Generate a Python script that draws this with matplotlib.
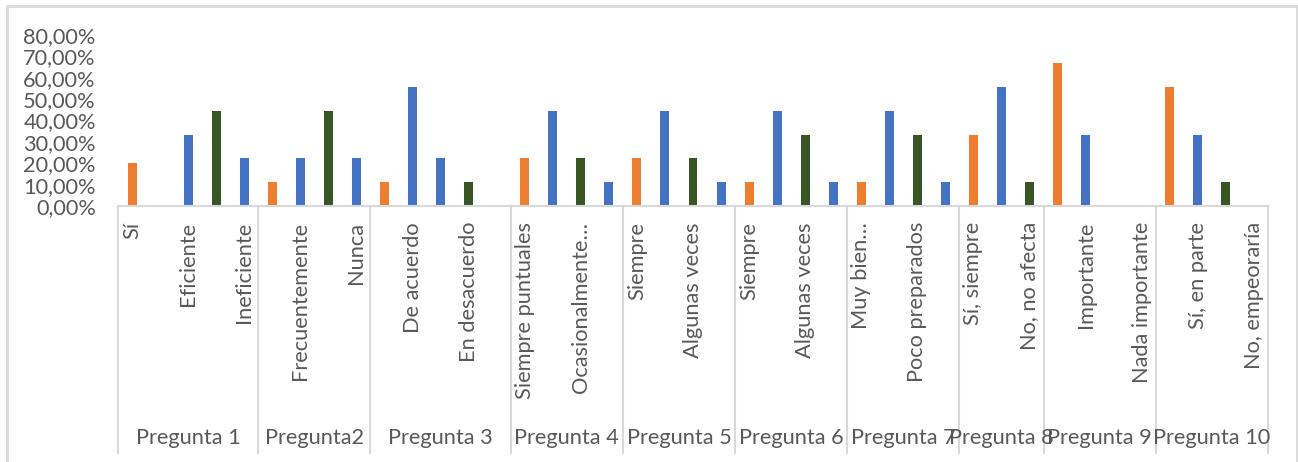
import matplotlib
matplotlib.use("Agg")
import matplotlib.pyplot as plt
import matplotlib.transforms as mtransforms
from matplotlib.patches import Rectangle
import numpy as np

# ---------------- data ----------------
groups = ["Pregunta 1", "Pregunta2", "Pregunta 3", "Pregunta 4", "Pregunta 5",
          "Pregunta 6", "Pregunta 7", "Pregunta 8", "Pregunta 9", "Pregunta 10"]
group_sizes = [5, 4, 5, 4, 4, 4, 4, 3, 4, 4]

# category labels (only every other one is visible in the chart; hidden ones left blank)
categories = ["Sí", "", "Eficiente", "", "Ineficiente",
              "", "Frecuentemente", "", "Nunca",
              "", "De acuerdo", "", "En desacuerdo", "",
              "Siempre puntuales", "", "Ocasionalmente…", "",
              "Siempre", "", "Algunas veces", "",
              "Siempre", "", "Algunas veces", "",
              "Muy bien…", "", "Poco preparados", "",
              "Sí, siempre", "", "No, no afecta",
              "", "Importante", "", "Nada importante",
              "", "Sí, en parte", "", "No, empeoraría"]

N = None
serie_naranja = [0.20, N, N, N, N,
                 0.1111, N, N, N,
                 0.1111, N, N, N, N,
                 0.2222, N, N, N,
                 0.2222, N, N, N,
                 0.1111, N, N, N,
                 0.1111, N, N, N,
                 0.3333, N, N,
                 0.6667, N, N, N,
                 0.5556, N, N, N]
serie_azul = [N, N, 0.3333, N, 0.2222,
              N, 0.2222, N, 0.2222,
              N, 0.5556, 0.2222, N, N,
              N, 0.4444, N, 0.1111,
              N, 0.4444, N, 0.1111,
              N, 0.4444, N, 0.1111,
              N, 0.4444, N, 0.1111,
              N, 0.5556, N,
              N, 0.3333, N, N,
              N, 0.3333, N, N]
serie_verde = [N, N, N, 0.4444, N,
               N, N, 0.4444, N,
               N, N, N, 0.1111, N,
               N, N, 0.2222, N,
               N, N, 0.2222, N,
               N, N, 0.3333, N,
               N, N, 0.3333, N,
               N, N, 0.1111,
               N, N, N, N,
               N, N, 0.1111, N]
y_ticks = [0.0, 0.1, 0.2, 0.3, 0.4, 0.5, 0.6, 0.7, 0.8]

# ---------------- style ----------------
W, H = 1298, 462
FONT = ["Lato", "DejaVu Sans"]
TEXT_C = "#595959"
LINE_C = "#D9D9D9"
colors = {"naranja": "#ED7D31", "azul": "#4472C4", "verde": "#375623"}

fig = plt.figure(figsize=(W / 100, H / 100), dpi=100)
plt.rcParams["font.family"] = FONT

# fit font size so that "Pregunta 1" is ~105 px wide (like the reference)
renderer = fig.canvas.get_renderer()
probe = fig.text(0, 0, "Pregunta 1", fontsize=10, family=FONT)
w10 = probe.get_window_extent(renderer).width
probe.remove()
FS = 10 * 105 / w10

x0, x1 = 118, 1268
y_base, y_top = 206, 34.8
ax = fig.add_axes([x0 / W, 1 - y_base / H, (x1 - x0) / W, (y_base - y_top) / H])

n = len(categories)
x = np.arange(n)
bw = 0.32
for serie, key in [(serie_naranja, "naranja"), (serie_azul, "azul"), (serie_verde, "verde")]:
    xs = [i for i, v in enumerate(serie) if v is not None]
    vs = [v for v in serie if v is not None]
    ax.bar(xs, vs, width=bw, color=colors[key], zorder=3)

ax.set_xlim(-0.5, n - 0.5)
ax.set_ylim(0, 0.8)
ax.set_yticks(y_ticks)
ax.set_yticklabels([f"{v * 100:.2f}%".replace(".", ",") for v in y_ticks],
                   fontsize=FS, color=TEXT_C, family=FONT)
ax.tick_params(axis="y", length=0, pad=16)
ax.set_xticks([])
for s in ["top", "right", "left"]:
    ax.spines[s].set_visible(False)
ax.spines["bottom"].set_color(LINE_C)
ax.spines["bottom"].set_linewidth(1.5)
ax.spines["bottom"].set_zorder(4)

trans = mtransforms.blended_transform_factory(ax.transData, fig.transFigure)
# category labels
for i, lab in enumerate(categories):
    if lab:
        fig.text(0, 0, "")  # placeholder to keep renderer happy
        ax.text(i, 1 - 222 / H, lab, transform=trans, rotation=90, ha="center",
                va="top", fontsize=FS, color=TEXT_C, family=FONT, clip_on=False)

# group separators and labels
bounds = np.concatenate([[0], np.cumsum(group_sizes)]) - 0.5
for b in bounds:
    ax.plot([b, b], [1 - y_base / H, 1 - 453 / H], transform=trans, color=LINE_C,
            lw=1.5, clip_on=False, zorder=2)
for g, a, b in zip(groups, bounds[:-1], bounds[1:]):
    ax.text((a + b) / 2, 1 - 438 / H, g, transform=trans, ha="center", va="center",
            fontsize=FS, color=TEXT_C, family=FONT, clip_on=False)

# chart border
fig.patches.append(Rectangle((7 / W, -0.05), (1297 - 7) / W, 1.05 - 6 / H,
                             transform=fig.transFigure, fill=False,
                             edgecolor=LINE_C, lw=2))

fig.savefig("out.png", dpi=100)
